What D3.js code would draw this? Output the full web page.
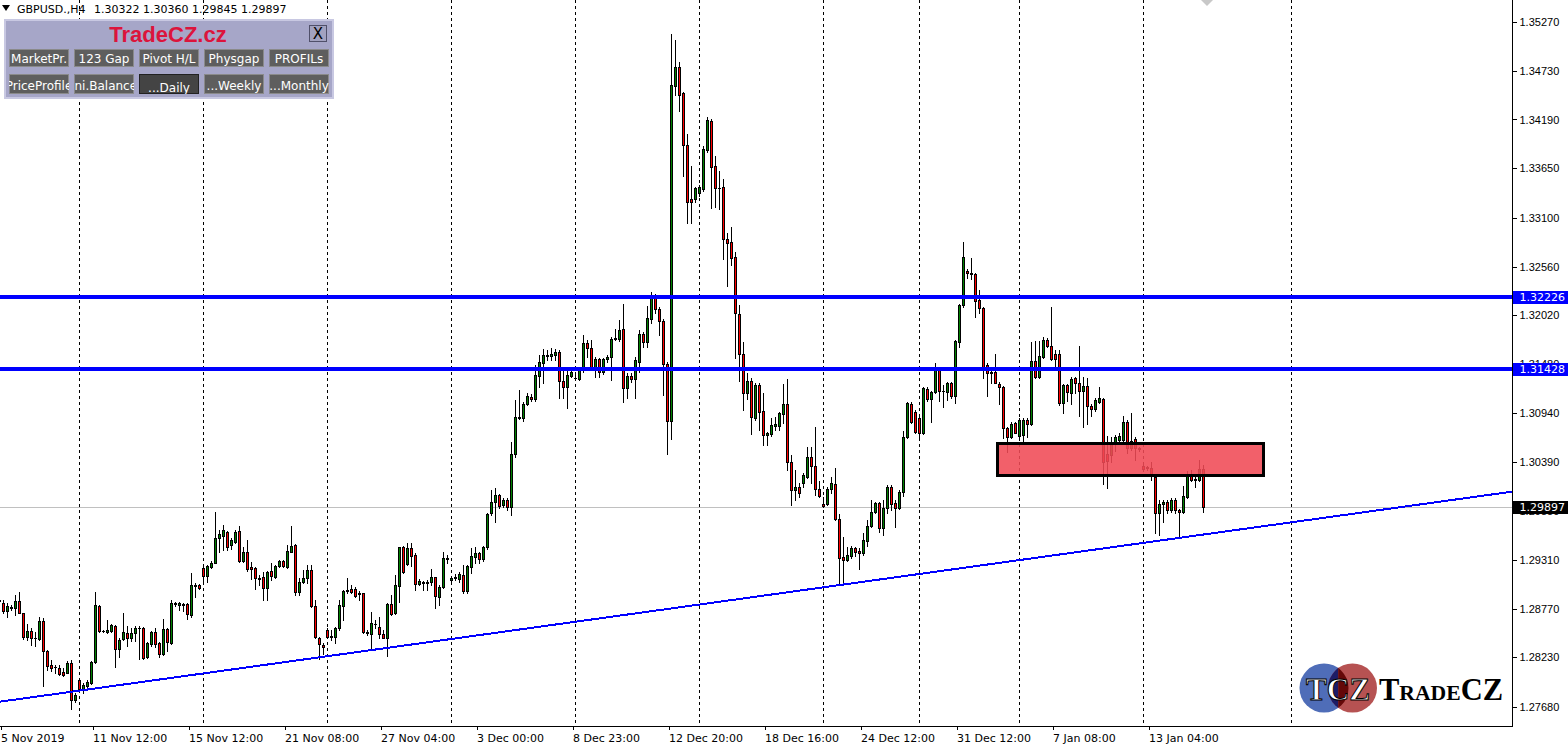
<!DOCTYPE html>
<html>
<head>
<meta charset="utf-8">
<style>
  body { margin: 0; background: #fff; }
  svg { display: block; font-family: "DejaVu Sans", Verdana, sans-serif; }
  .crisp { shape-rendering: crispEdges; }
  .grid line { stroke: #000; stroke-dasharray: 3,3; }
  .paxis text { font-size: 11px; fill: #000; }
  .paxis line { stroke: #000; }
  .paxis path { stroke: none; }
  .tlabel { font-size: 11px; fill: #000; }
  .btn text { font-size: 12px; fill: #fff; }
</style>
<script src="https://d3js.org/d3.v7.min.js"></script>
</head>
<body>
<script>
// H4 candles, [open, high, low, close], first row is bar -1 (partly cut off at the left edge)
const firstBar = -1;
const candles = [
  [1.28866,1.28870,1.28850,1.28859],
  [1.28829,1.28866,1.28718,1.28748],[1.28741,1.28829,1.28681,1.28800],[1.28774,1.28811,1.28755,1.28792],[1.28774,1.28921,1.28700,1.28855],
  [1.28855,1.28951,1.28718,1.28726],[1.28718,1.28726,1.28430,1.28452],[1.28452,1.28600,1.28423,1.28523],[1.28523,1.28552,1.28368,1.28441],
  [1.28441,1.28515,1.28360,1.28445],[1.28430,1.28674,1.28423,1.28633],[1.28633,1.28663,1.27917,1.28305],[1.28301,1.28312,1.28091,1.28139],
  [1.28146,1.28201,1.28083,1.28116],[1.28128,1.28146,1.28054,1.28120],[1.28116,1.28146,1.28035,1.28046],[1.28072,1.28109,1.28024,1.28035],
  [1.28061,1.28194,1.28054,1.28164],[1.28164,1.28201,1.27659,1.27758],[1.27758,1.27832,1.27740,1.27814],[1.27980,1.27991,1.27851,1.27876],
  [1.27880,1.27950,1.27839,1.27924],[1.27917,1.27980,1.27906,1.27961],[1.27943,1.28187,1.27932,1.28176],[1.28176,1.28955,1.28164,1.28807],
  [1.28800,1.28807,1.28512,1.28526],[1.28526,1.28534,1.28508,1.28523],[1.28515,1.28645,1.28497,1.28534],[1.28526,1.28600,1.28515,1.28589],
  [1.28582,1.28589,1.28128,1.28320],[1.28320,1.28441,1.28238,1.28423],[1.28430,1.28718,1.28423,1.28508],[1.28497,1.28578,1.28360,1.28449],
  [1.28441,1.28552,1.28416,1.28497],[1.28497,1.28578,1.28416,1.28560],[1.28560,1.28578,1.28212,1.28552],[1.28556,1.28571,1.28209,1.28220],
  [1.28231,1.28404,1.28220,1.28386],[1.28375,1.28523,1.28360,1.28508],[1.28508,1.28552,1.28349,1.28379],[1.28386,1.28404,1.28231,1.28268],
  [1.28268,1.28656,1.28257,1.28545],[1.28545,1.28552,1.28305,1.28397],[1.28386,1.28866,1.28379,1.28829],[1.28829,1.28848,1.28800,1.28818],
  [1.28814,1.28848,1.28755,1.28829],[1.28818,1.28829,1.28748,1.28811],[1.28818,1.28837,1.28652,1.28707],[1.28696,1.29169,1.28681,1.29029],
  [1.29029,1.29051,1.28903,1.29025],[1.29029,1.29043,1.28988,1.29003],[1.29217,1.29254,1.29051,1.29136],[1.29132,1.29254,1.29069,1.29243],
  [1.29235,1.29302,1.29217,1.29280],[1.29280,1.29845,1.29272,1.29549],[1.29549,1.29642,1.29402,1.29597],[1.29579,1.29697,1.29420,1.29642],
  [1.29616,1.29634,1.29420,1.29450],[1.29475,1.29549,1.29427,1.29531],[1.29512,1.29642,1.29494,1.29623],[1.29631,1.29686,1.29291,1.29298],
  [1.29298,1.29457,1.29291,1.29394],[1.29394,1.29531,1.29191,1.29206],[1.29228,1.29291,1.29095,1.29210],[1.29217,1.29235,1.28984,1.29113],
  [1.29113,1.29143,1.29032,1.29102],[1.29117,1.29173,1.28866,1.28995],[1.28995,1.29187,1.28866,1.29173],[1.29187,1.29272,1.29088,1.29132],
  [1.29117,1.29254,1.29106,1.29243],[1.29247,1.29309,1.29235,1.29298],[1.29298,1.29309,1.29235,1.29247],[1.29235,1.29475,1.29217,1.29409],
  [1.29402,1.29686,1.29394,1.29464],[1.29475,1.29487,1.28921,1.28951],[1.28951,1.29106,1.28921,1.29062],[1.29062,1.29198,1.29051,1.29106],
  [1.29113,1.29254,1.29051,1.29198],[1.29198,1.29254,1.28792,1.28800],[1.28800,1.28866,1.28441,1.28452],[1.28449,1.28460,1.28209,1.28375],
  [1.28368,1.28386,1.28268,1.28342],[1.28534,1.28552,1.28441,1.28460],[1.28460,1.28534,1.28423,1.28471],[1.28460,1.28563,1.28386,1.28552],
  [1.28552,1.28866,1.28534,1.28807],[1.28800,1.28977,1.28645,1.28970],[1.28966,1.29106,1.28940,1.28977],[1.28988,1.29032,1.28940,1.28958],
  [1.28984,1.29006,1.28896,1.28914],[1.28940,1.28970,1.28866,1.28929],[1.28940,1.28947,1.28497,1.28515],[1.28515,1.28534,1.28478,1.28504],
  [1.28486,1.28737,1.28323,1.28608],[1.28597,1.28645,1.28552,1.28604],[1.28571,1.28681,1.28441,1.28486],[1.28486,1.28534,1.28441,1.28449],
  [1.28441,1.28837,1.28249,1.28818],[1.28818,1.28921,1.28700,1.28707],[1.28718,1.29143,1.28707,1.29032],[1.29025,1.29457,1.28848,1.29450],
  [1.29450,1.29464,1.29162,1.29180],[1.29265,1.29501,1.29254,1.29446],[1.29439,1.29494,1.29243,1.29354],[1.29365,1.29383,1.28977,1.29043],
  [1.29040,1.29099,1.29032,1.29077],[1.29070,1.29080,1.28977,1.29055],[1.29051,1.29088,1.28977,1.29069],[1.29069,1.29206,1.29032,1.29117],
  [1.29117,1.29125,1.28774,1.28910],[1.28903,1.29032,1.28811,1.29014],[1.29006,1.29394,1.28995,1.29328],[1.29328,1.29365,1.29272,1.29320],
  [1.29087,1.29124,1.29069,1.29106],[1.29106,1.29154,1.29087,1.29124],[1.29098,1.29180,1.29069,1.29154],[1.29143,1.29253,1.28940,1.28969],
  [1.28969,1.29253,1.28940,1.29242],[1.29228,1.29438,1.29161,1.29353],[1.29346,1.29457,1.29272,1.29390],[1.29390,1.29401,1.29279,1.29316],
  [1.29316,1.29468,1.29302,1.29457],[1.29457,1.29826,1.29427,1.29819],[1.29826,1.30084,1.29807,1.29948],[1.29948,1.30103,1.29734,1.30029],
  [1.30029,1.30036,1.29881,1.29911],[1.29918,1.29992,1.29892,1.29974],[1.29974,1.29992,1.29863,1.29900],[1.29892,1.30613,1.29807,1.30483],
  [1.30483,1.31082,1.30446,1.30897],[1.30897,1.31192,1.30867,1.30880],[1.30878,1.31063,1.30852,1.31037],[1.31033,1.31155,1.31026,1.31126],
  [1.31118,1.31148,1.31074,1.31089],[1.31089,1.31469,1.31074,1.31358],[1.31351,1.31580,1.31229,1.31503],[1.31488,1.31643,1.31274,1.31580],
  [1.31580,1.31635,1.31525,1.31569],[1.31569,1.31654,1.31525,1.31591],[1.31580,1.31643,1.31525,1.31617],[1.31617,1.31635,1.31100,1.31292],
  [1.31292,1.31432,1.31100,1.31222],[1.31222,1.31414,1.30989,1.31358],[1.31351,1.31414,1.31340,1.31392],[1.31322,1.31358,1.31303,1.31325],
  [1.31314,1.31443,1.31303,1.31421],[1.31414,1.31802,1.31395,1.31709],[1.31709,1.31746,1.31562,1.31654],[1.31654,1.31746,1.31414,1.31443],
  [1.31443,1.31562,1.31340,1.31532],[1.31532,1.31543,1.31340,1.31395],[1.31388,1.31543,1.31370,1.31532],[1.31532,1.31580,1.31506,1.31562],
  [1.31554,1.31776,1.31303,1.31754],[1.31754,1.31867,1.31746,1.31765],[1.31754,1.31968,1.31739,1.31856],[1.31867,1.32145,1.31063,1.31211],
  [1.31211,1.31377,1.31100,1.31348],[1.31348,1.31377,1.31285,1.31311],[1.31311,1.31555,1.31100,1.31525],[1.31507,1.31858,1.31396,1.31813],
  [1.31813,1.31839,1.31673,1.31728],[1.31728,1.32123,1.31673,1.31987],[1.31976,1.32282,1.31931,1.32245],[1.32234,1.32256,1.32042,1.32087],
  [1.32087,1.32109,1.31802,1.31961],[1.31957,1.31976,1.31137,1.31477],[1.31477,1.31507,1.30484,1.30853],[1.30853,1.35137,1.30646,1.34572],
  [1.34561,1.35070,1.34461,1.34768],[1.34768,1.34830,1.34288,1.34461],[1.34480,1.34498,1.33564,1.33907],[1.33907,1.34029,1.33047,1.33279],
  [1.33305,1.33674,1.33047,1.33279],[1.33305,1.33446,1.33279,1.33427],[1.33379,1.33464,1.33342,1.33438],[1.33416,1.33896,1.33401,1.33859],
  [1.33852,1.34221,1.33833,1.34184],[1.34177,1.34192,1.33206,1.33660],[1.33674,1.33785,1.33224,1.33434],[1.33434,1.33623,1.33194,1.33427],
  [1.33438,1.33527,1.32640,1.32862],[1.32866,1.32928,1.32345,1.32825],[1.32829,1.32995,1.32578,1.32651],[1.32663,1.32718,1.31544,1.32042],
  [1.32035,1.32134,1.31296,1.31588],[1.31588,1.31728,1.30971,1.31156],[1.31163,1.31377,1.31089,1.31293],[1.31293,1.31322,1.30705,1.30890],
  [1.30879,1.31267,1.30861,1.31248],[1.31248,1.31267,1.30750,1.30953],[1.30960,1.31163,1.30583,1.30694],[1.30694,1.30731,1.30583,1.30713],
  [1.30705,1.30879,1.30683,1.30805],[1.30794,1.30897,1.30750,1.30816],[1.30798,1.30953,1.30750,1.30934],[1.30927,1.31259,1.30824,1.31038],
  [1.31038,1.31311,1.30306,1.30395],[1.30395,1.30472,1.29918,1.30084],[1.30084,1.30306,1.29974,1.30121],[1.30121,1.30158,1.30011,1.30048],
  [1.30166,1.30269,1.30121,1.30251],[1.30232,1.30565,1.30214,1.30446],[1.30446,1.30565,1.30158,1.30354],[1.30354,1.30786,1.30029,1.30092],
  [1.30092,1.30184,1.30011,1.30018],[1.29929,1.30011,1.29900,1.29907],[1.29929,1.30121,1.29918,1.30092],[1.30092,1.30232,1.30048,1.30158],
  [1.30151,1.30325,1.29752,1.29760],[1.29760,1.29819,1.29043,1.29327],[1.29338,1.29567,1.29069,1.29309],[1.29309,1.29457,1.29302,1.29364],
  [1.29353,1.29464,1.29327,1.29438],[1.29438,1.29457,1.29353,1.29401],[1.29409,1.29438,1.29206,1.29383],[1.29383,1.29612,1.29364,1.29531],
  [1.29523,1.29752,1.29464,1.29686],[1.29686,1.29974,1.29671,1.29837],[1.29837,1.29955,1.29826,1.29944],[1.29944,1.29955,1.29623,1.29660],
  [1.29660,1.29974,1.29586,1.29881],[1.29881,1.30140,1.29833,1.30121],[1.30121,1.30140,1.29863,1.29929],[1.29937,1.29974,1.29671,1.29881],
  [1.29881,1.30085,1.29870,1.30066],[1.30066,1.30742,1.30022,1.30668],[1.30668,1.31063,1.30657,1.31045],[1.31037,1.31063,1.30823,1.30842],
  [1.30952,1.30971,1.30712,1.30731],[1.30878,1.30897,1.30638,1.30712],[1.30712,1.31229,1.30705,1.31211],[1.31200,1.31229,1.31074,1.31093],
  [1.31093,1.31185,1.30842,1.31166],[1.31166,1.31488,1.31155,1.31414],[1.31414,1.31451,1.31074,1.31185],[1.31185,1.31248,1.31008,1.31177],
  [1.31166,1.31285,1.31082,1.31266],[1.31266,1.31277,1.31100,1.31130],[1.31130,1.31746,1.31045,1.31735],[1.31728,1.32145,1.31672,1.32134],
  [1.32134,1.32828,1.32108,1.32662],[1.32514,1.32529,1.32430,1.32485],[1.32485,1.32651,1.32418,1.32474],[1.32478,1.32492,1.32005,1.32182],
  [1.32189,1.32300,1.32042,1.32097],[1.32097,1.32108,1.31322,1.31451],[1.31469,1.31488,1.31130,1.31384],[1.31388,1.31414,1.31266,1.31377],
  [1.31388,1.31591,1.31266,1.31274],[1.31259,1.31285,1.31037,1.31222],[1.31229,1.31237,1.30657,1.30768],[1.30768,1.30786,1.30509,1.30668],
  [1.30668,1.30842,1.30657,1.30816],[1.30823,1.30842,1.30712,1.30720],[1.30683,1.30878,1.30638,1.30860],[1.30694,1.30878,1.30631,1.30860],
  [1.30860,1.30878,1.30668,1.30816],[1.30816,1.31729,1.30805,1.31514],[1.31514,1.31737,1.31322,1.31340],[1.31340,1.31739,1.31322,1.31569],
  [1.31562,1.31783,1.31543,1.31746],[1.31746,1.31765,1.31672,1.31683],[1.31683,1.32116,1.31525,1.31536],[1.31591,1.31635,1.31451,1.31532],
  [1.31591,1.31635,1.31026,1.31045],[1.31045,1.31259,1.30941,1.31248],[1.31248,1.31259,1.31074,1.31166],[1.31155,1.31333,1.31037,1.31310],
  [1.31322,1.31340,1.31155,1.31266],[1.31274,1.31680,1.30904,1.31185],[1.31185,1.31340,1.30786,1.31237],[1.31237,1.31322,1.30816,1.31015],
  [1.31015,1.31037,1.30904,1.30978],[1.30978,1.31100,1.30963,1.31082],[1.31063,1.31222,1.31052,1.31100],[1.31093,1.31100,1.30151,1.30398],
  [1.30483,1.30683,1.30103,1.30410],[1.30472,1.30675,1.30398,1.30602],[1.30602,1.30694,1.30520,1.30675],[1.30638,1.30712,1.30620,1.30683],
  [1.30638,1.30904,1.30631,1.30834],[1.30834,1.30860,1.30491,1.30546],[1.30546,1.30934,1.30528,1.30631],[1.30646,1.30675,1.30417,1.30546],
  [1.30554,1.30565,1.30520,1.30539],[1.30350,1.30361,1.30299,1.30313],[1.30335,1.30350,1.30306,1.30324],[1.30324,1.30398,1.30195,1.30262],
  [1.30232,1.30262,1.29604,1.29826],[1.29826,1.29974,1.29586,1.29929],[1.29929,1.29974,1.29734,1.29955],[1.29955,1.29974,1.29826,1.29863],
  [1.29863,1.29992,1.29844,1.29974],[1.29974,1.29992,1.29826,1.29863],[1.29863,1.29870,1.29549,1.29837],[1.29837,1.30129,1.29826,1.30018],
  [1.30003,1.30299,1.29992,1.30240],[1.30240,1.30306,1.30188,1.30195],[1.30195,1.30262,1.30121,1.30203],[1.30195,1.30417,1.30188,1.30313],
  [1.30322,1.30360,1.29845,1.29897]
];

const priceTicks = [1.35270, 1.34730, 1.34190, 1.33650, 1.33100, 1.32560, 1.32020, 1.31480,
                    1.30940, 1.30390, 1.29850, 1.29310, 1.28770, 1.28230, 1.27680];
const timeLabels = ["5 Nov 2019", "11 Nov 12:00", "15 Nov 12:00", "21 Nov 08:00", "27 Nov 04:00",
                    "3 Dec 00:00", "8 Dec 23:00", "12 Dec 20:00", "18 Dec 16:00", "24 Dec 12:00",
                    "31 Dec 12:00", "7 Jan 08:00", "13 Jan 04:00"];
const timeLabelBars = [-1, 22, 46, 70, 94, 118, 142, 166, 190, 214, 238, 262, 286];
const gridBars = [19, 50, 81, 112, 143, 174, 205, 229, 254, 285, 322];   // Monday 00:00 separators
const levels = [1.32226, 1.31428];
const lastPrice = 1.29897;
const trendBars = [-0.75, 377.25];
const trendPrices = [1.27739, 1.30066];
const zoneBars = [248.5, 315];
const zonePrices = [1.30600, 1.30245];
const symbolText = "GBPUSD.,H4";
const ohlcText = "1.30322 1.30360 1.29845 1.29897";
const buttonsTop = ["MarketPr.", "123 Gap", "Pivot H/L", "Physgap", "PROFILs"];
const buttonsBottom = ["PriceProfile", "Ini.Balance", "...Daily", "...Weekly", "...Monthly"];

const W = 1568, H = 747, plotR = 1512, plotB = 726;

const svg = d3.select('body').append('svg')
  .attr('width', W).attr('height', H);
const defs = svg.append('defs');

defs.append('clipPath').attr('id', 'plotclip')
  .append('rect').attr('x', 0).attr('y', 0).attr('width', plotR).attr('height', plotB);

var x = d3.scaleLinear().domain([0, 300]).range([3, 1203]);
var y = d3.scaleLinear().domain([1.27680, 1.35270]).range([707, 22]);

var plot = svg.append('g').attr('clip-path', 'url(#plotclip)');

// weekly separators
plot.append('g').attr('class', 'grid crisp')
  .selectAll('line').data(gridBars).enter().append('line')
  .attr('x1', d => x(d) + 0.5).attr('x2', d => x(d) + 0.5)
  .attr('y1', 0).attr('y2', plotB);

// bid line
plot.append('line').attr('class', 'crisp')
  .attr('x1', 0).attr('x2', plotR)
  .attr('y1', Math.round(y(lastPrice)) + 0.5).attr('y2', Math.round(y(lastPrice)) + 0.5)
  .attr('stroke', '#c0c0c0');

// candles
var bars = plot.append('g').attr('class', 'crisp');
candles.forEach(function(d, i) {
  var c = Math.round(x(i + firstBar));
  var yh = Math.round(y(d[1])), yl = Math.round(y(d[2]));
  var yo = Math.round(y(d[0])), yc = Math.round(y(d[3]));
  var top = Math.min(yo, yc), bot = Math.max(yo, yc);
  bars.append('rect').attr('x', c).attr('y', yh).attr('width', 1).attr('height', yl - yh + 1).attr('fill', '#000');
  bars.append('rect').attr('x', c - 1).attr('y', top).attr('width', 3).attr('height', bot - top + 1).attr('fill', '#000');
  if (bot - top >= 2) {
    bars.append('rect').attr('x', c).attr('y', top + 1).attr('width', 1).attr('height', bot - top - 1)
      .attr('fill', d[3] >= d[0] ? '#008000' : '#ff0000');
  }
});

// trend line
plot.append('line').attr('class', 'crisp')
  .attr('x1', x(trendBars[0])).attr('y1', y(trendPrices[0]))
  .attr('x2', x(trendBars[1])).attr('y2', y(trendPrices[1]))
  .attr('stroke', '#0000ff').attr('stroke-width', 2);

// horizontal levels
plot.selectAll('.level').data(levels).enter().append('rect')
  .attr('class', 'level crisp')
  .attr('x', 0).attr('width', plotR)
  .attr('y', d => Math.round(y(d)) - 2).attr('height', 4)
  .attr('fill', '#0000ff');

// supply zone
plot.append('rect').attr('class', 'crisp')
  .attr('x', x(zoneBars[0])).attr('width', x(zoneBars[1]) - x(zoneBars[0]))
  .attr('y', y(zonePrices[0])).attr('height', y(zonePrices[1]) - y(zonePrices[0]))
  .attr('fill', '#f04a55').attr('fill-opacity', 0.88)
  .attr('stroke', '#000').attr('stroke-width', 3);

// chart shift marker
svg.append('path').attr('d', 'M1201,0 L1213,0 L1207,6 Z').attr('fill', '#c8c8c8');

// frame
svg.append('path').attr('class', 'crisp')
  .attr('d', 'M' + (plotR + 0.5) + ',0 V' + (plotB + 0.5) + ' H0')
  .attr('fill', 'none').attr('stroke', '#000');

// price axis
var axisP = d3.axisRight(y).tickValues(priceTicks).tickSize(4).tickSizeOuter(0)
  .tickPadding(3).tickFormat(d3.format('.5f'));
svg.append('g').attr('class', 'paxis crisp')
  .attr('transform', 'translate(' + (plotR + 0.5) + ',0)')
  .call(axisP);

// price tags cover the tick labels under them, as in the terminal
function priceTag(v, bg) {
  var yy = Math.round(y(v));
  svg.append('rect').attr('class', 'crisp')
    .attr('x', plotR + 1).attr('y', yy - 6).attr('width', W - plotR - 1).attr('height', 13)
    .attr('fill', bg);
  svg.append('text').attr('x', plotR + 7.5).attr('y', yy).attr('dy', '0.36em')
    .attr('font-size', 11).attr('fill', '#fff').text(d3.format('.5f')(v));
}
levels.forEach(v => priceTag(v, '#0000ff'));
priceTag(lastPrice, '#000');

// time axis
var tAxis = svg.append('g');
tAxis.selectAll('line').data(timeLabelBars).enter().append('line')
  .attr('class', 'crisp')
  .attr('x1', d => x(d) + 2.5).attr('x2', d => x(d) + 2.5)
  .attr('y1', plotB).attr('y2', plotB + 4)
  .attr('stroke', '#000');
tAxis.selectAll('text').data(timeLabels).enter().append('text')
  .attr('class', 'tlabel')
  .attr('x', (d, i) => x(timeLabelBars[i]) + 2)
  .attr('y', 742)
  .text(d => d);

// header
svg.append('path').attr('d', 'M2,5 L10,5 L6,11 Z').attr('fill', '#000');
svg.append('text').attr('x', 17).attr('y', 13).attr('font-size', 11).text(symbolText);
svg.append('text').attr('x', 94).attr('y', 13).attr('font-size', 11).text(ohlcText);

// tool panel
var panel = svg.append('g');
panel.append('rect').attr('class', 'crisp')
  .attr('x', 4.5).attr('y', 19.5).attr('width', 328).attr('height', 78)
  .attr('fill', '#a6a6c8').attr('stroke', '#c8c8e2').attr('stroke-width', 2);
panel.append('text').attr('x', 168).attr('y', 42).attr('text-anchor', 'middle')
  .attr('font-family', '"Liberation Sans", Arial, sans-serif').attr('font-weight', 'bold')
  .attr('font-size', 22).attr('fill', '#dc143c').text('TradeCZ.cz');
panel.append('rect').attr('class', 'crisp')
  .attr('x', 309.5).attr('y', 25.5).attr('width', 17).attr('height', 16)
  .attr('fill', '#a2a2c0').attr('stroke', '#50506a');
panel.append('text').attr('x', 318).attr('y', 39).attr('text-anchor', 'middle')
  .attr('font-size', 15).attr('fill', '#000').text('X');

function drawButtons(labels, y0, h, ty) {
  labels.forEach(function(t, i) {
    var bx = 9 + 65 * i;
    var pressed = (t === '...Daily');
    var g = panel.append('g').attr('class', 'btn');
    var cid = 'bclip' + y0 + '_' + i;
    defs.append('clipPath').attr('id', cid)
      .append('rect').attr('x', bx).attr('y', y0).attr('width', 60).attr('height', h);
    g.append('rect').attr('class', 'crisp')
      .attr('x', bx + 0.5).attr('y', y0 + 0.5).attr('width', 59).attr('height', h - 1)
      .attr('fill', pressed ? '#444' : '#5e5e5e')
      .attr('stroke', pressed ? '#222' : '#8a8a8a');
    g.append('text').attr('clip-path', 'url(#' + cid + ')')
      .attr('x', bx + 30).attr('y', ty + (pressed ? 2 : 0)).attr('text-anchor', 'middle').text(t);
  });
}
drawButtons(buttonsTop, 49, 18, 63);
drawButtons(buttonsBottom, 74, 20, 90);

// logo: two overlapping discs, the shared lens is dark (navy on the left, maroon on the right)
var cy = 688, r = 24.5, cxB = 1324, cxR = 1352.5;
defs.append('clipPath').attr('id', 'discR').append('circle').attr('cx', cxR).attr('cy', cy).attr('r', r);
defs.append('clipPath').attr('id', 'discB').append('circle').attr('cx', cxB).attr('cy', cy).attr('r', r);
var logo = svg.append('g');
logo.append('circle').attr('cx', cxB).attr('cy', cy).attr('r', r).attr('fill', '#4f6db8');
logo.append('circle').attr('cx', cxR).attr('cy', cy).attr('r', r).attr('fill', '#b65252');
var lens = logo.append('g').attr('clip-path', 'url(#discR)')
  .append('g').attr('clip-path', 'url(#discB)');
lens.append('rect').attr('x', cxB - r).attr('y', cy - r).attr('width', (cxB + cxR) / 2 - (cxB - r)).attr('height', 2 * r)
  .attr('fill', '#1c1c66');
lens.append('rect').attr('x', (cxB + cxR) / 2).attr('y', cy - r).attr('width', 40).attr('height', 2 * r)
  .attr('fill', '#640808');
logo.append('text').attr('x', 1338).attr('y', 700).attr('text-anchor', 'middle')
  .attr('font-family', '"Liberation Serif", "Times New Roman", serif').attr('font-weight', 'bold')
  .attr('font-size', 32).attr('textLength', 64).attr('lengthAdjust', 'spacingAndGlyphs')
  .attr('fill', '#fff').attr('stroke', '#000').attr('stroke-width', 1).text('TCZ');
logo.append('text').attr('x', 1379).attr('y', 700)
  .attr('font-family', '"Liberation Serif", "Times New Roman", serif').attr('font-weight', 'bold')
  .attr('font-size', 31).attr('font-variant', 'small-caps')
  .attr('textLength', 124).attr('lengthAdjust', 'spacingAndGlyphs')
  .attr('fill', '#000').text('TradeCZ');
</script>
</body>
</html>
